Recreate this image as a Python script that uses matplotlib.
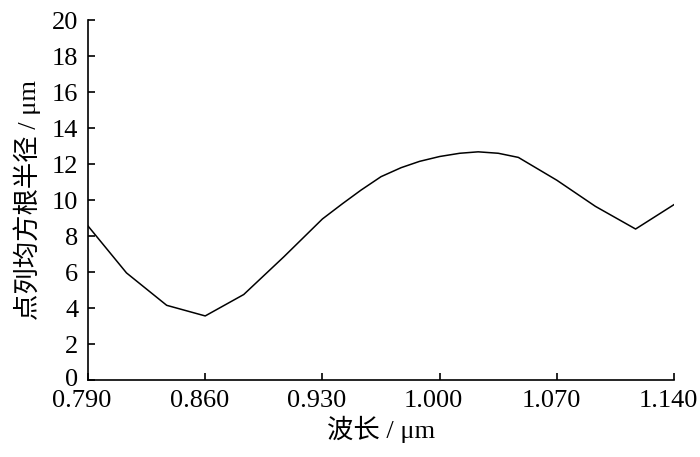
import matplotlib
matplotlib.use("Agg")
import numpy as np
from matplotlib import pyplot as plt
from matplotlib.transforms import ScaledTranslation

# 波长 (μm) 与点列均方根半径 (μm)
wavelength = [0.790, 0.813, 0.837, 0.860, 0.883, 0.907, 0.930, 0.942, 0.953,
              0.965, 0.977, 0.988, 1.000, 1.012, 1.023, 1.035, 1.047, 1.070,
              1.093, 1.117, 1.140]
rms_radius = [8.56, 5.95, 4.15, 3.56, 4.75, 6.85, 8.95, 9.8, 10.55,
              11.3, 11.8, 12.15, 12.42, 12.6, 12.68, 12.6, 12.37, 11.1,
              9.65, 8.39, 9.75]
x_ticks = [0.790, 0.860, 0.930, 1.000, 1.070, 1.140]
y_ticks = list(range(0, 21, 2))

plt.rcParams['font.family'] = ['Liberation Serif', 'Noto Sans CJK SC']

fig = plt.figure(figsize=(7, 4.57), dpi=100)
ax = fig.add_axes([0.1257, 0.1685, 0.8373, 0.7875])
ax.plot(wavelength, rms_radius, color='black', linewidth=1.1)

ax.set_xlim(0.790, 1.140)
ax.set_ylim(0, 20)
ax.set_xticks(x_ticks)
ax.set_xticklabels([f'{v:.3f}' for v in x_ticks])
ax.set_yticks(y_ticks)
ax.spines['top'].set_visible(False)
ax.spines['right'].set_visible(False)
for s in ('left', 'bottom'):
    ax.spines[s].set_linewidth(1.2)
ax.tick_params(direction='in', length=5, width=1.2, labelsize=19)
ax.tick_params(axis='x', pad=7)
ax.tick_params(axis='y', pad=7)

# 横轴刻度标签整体略向左偏
shift = ScaledTranslation(-6 / 100, 0, fig.dpi_scale_trans)
for lbl in ax.get_xticklabels():
    lbl.set_transform(lbl.get_transform() + shift)
# 纵轴 0 标签略上移，避免与 0.790 重叠
ax.get_yticklabels()[0].set_transform(
    ax.get_yticklabels()[0].get_transform()
    + ScaledTranslation(0, 2 / 100, fig.dpi_scale_trans))

ax.set_xlabel('波长 / μm', fontsize=19, labelpad=3)
ax.set_ylabel('点列均方根半径 / μm', fontsize=19, labelpad=8)

plt.savefig('out.png', dpi=100)
plt.close()
